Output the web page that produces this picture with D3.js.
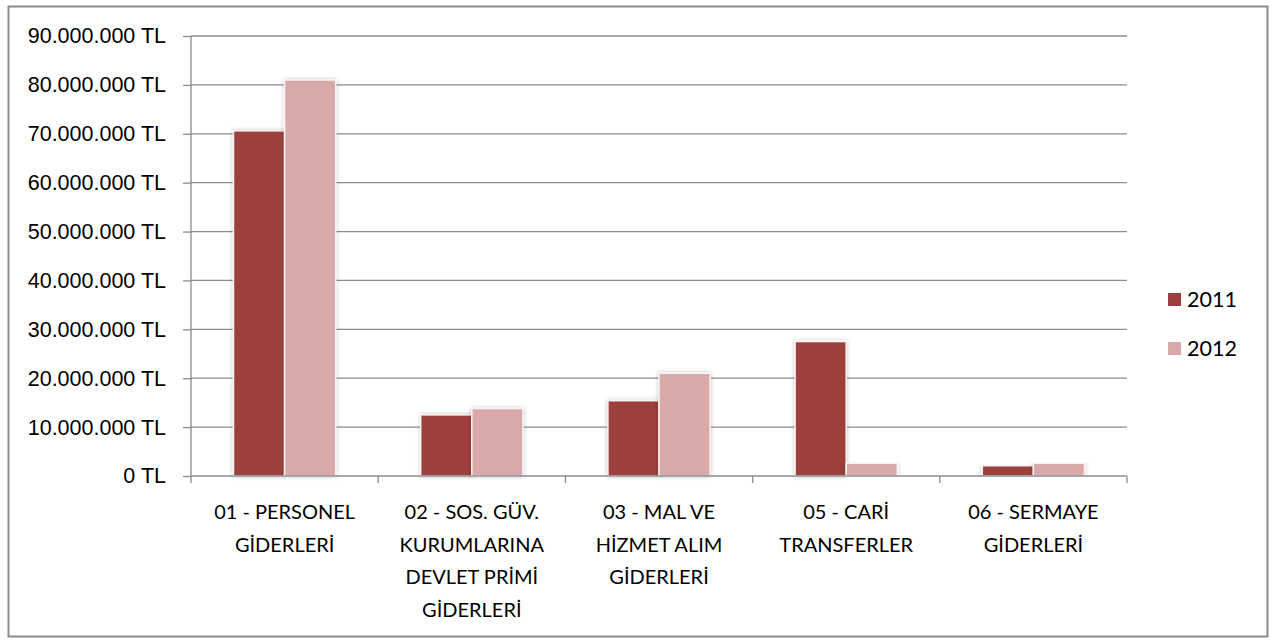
<!DOCTYPE html>
<html>
<head>
<meta charset="utf-8">
<script src="https://cdn.jsdelivr.net/npm/d3@7"></script>
<style>
  body { margin: 0; background: #fff; }
  svg { display: block; font-family: Lato, "Open Sans", sans-serif; }
  .grid line { stroke: #8c8c8c; stroke-width: 1.3; }
  .axis path, .axis line { stroke: #8c8c8c; stroke-width: 1.3; }
  .axis text { fill: #000; font-size: 20px; }
  .yaxis text { font-size: 21.5px; }
  .legend text { font-size: 21.5px; fill: #000; }
</style>
</head>
<body>
<svg id="chart" width="1282" height="641"></svg>
<script>
// chart values
const categories = [
  ["01 - PERSONEL", "GİDERLERİ"],
  ["02 - SOS. GÜV.", "KURUMLARINA", "DEVLET PRİMİ", "GİDERLERİ"],
  ["03 - MAL VE", "HİZMET ALIM", "GİDERLERİ"],
  ["05 - CARİ", "TRANSFERLER"],
  ["06 - SERMAYE", "GİDERLERİ"]
]
const series = ["2011", "2012"]
const values2011 = [70600000, 12500000, 15400000, 27500000, 2100000]
const values2012 = [81000000, 13800000, 21000000, 2600000, 2600000]
const yTicks = [0, 10000000, 20000000, 30000000, 40000000, 50000000, 60000000, 70000000, 80000000, 90000000]
const colors = ["#9b3f3e", "#d9a9aa"]

const svg = d3.select("#chart")
const margin = { top: 36, left: 191, right: 155, bottom: 165 }
const width = 1282
const height = 641
const plotW = width - margin.left - margin.right
const plotH = height - margin.top - margin.bottom

// outer frame
svg.append("rect")
  .attr("x", 8.5).attr("y", 6.5)
  .attr("width", 1259).attr("height", 630)
  .attr("fill", "#fff")
  .attr("stroke", "#8a8a8a")
  .attr("stroke-width", 2)

const defs = svg.append("defs")
const shadow = defs.append("filter").attr("id", "shadow")
  .attr("x", "-20%").attr("y", "-5%").attr("width", "140%").attr("height", "110%")
shadow.append("feGaussianBlur").attr("in", "SourceAlpha").attr("stdDeviation", 2.2).attr("result", "b")
shadow.append("feComponentTransfer").attr("in", "b").attr("result", "s")
  .append("feFuncA").attr("type", "linear").attr("slope", 0.25)
const merge = shadow.append("feMerge")
merge.append("feMergeNode").attr("in", "s")
merge.append("feMergeNode").attr("in", "SourceGraphic")

const g = svg.append("g").attr("transform", `translate(${margin.left},${margin.top})`)

const idx = d3.range(categories.length)
const x0 = d3.scaleBand().domain(idx).range([0, plotW]).paddingInner(0).paddingOuter(0)
const x1 = d3.scaleBand().domain(series)
  .range([x0.bandwidth() * 0.227, x0.bandwidth() * 0.773]).padding(0)
const y = d3.scaleLinear().domain([0, 90000000]).range([plotH, 0])

// horizontal gridlines
g.append("g").attr("class", "grid")
  .selectAll("line")
  .data(yTicks.slice(1))
  .join("line")
  .attr("x1", 0).attr("x2", plotW)
  .attr("y1", d => y(d)).attr("y2", d => y(d))

const fmt = d => d3.format(",")(d).replace(/,/g, ".") + " TL"

g.append("g").attr("class", "axis yaxis")
  .call(d3.axisLeft(y).tickValues(yTicks).tickFormat(fmt).tickSize(8).tickPadding(17).tickSizeOuter(0))
  .call(a => a.select(".domain").attr("d", `M0,${plotH}V0`))

// bars
const data = idx.map(i => ({ i, vals: [values2011[i], values2012[i]] }))
g.append("g").selectAll("g")
  .data(data)
  .join("g")
  .attr("transform", d => `translate(${x0(d.i)},0)`)
  .selectAll("rect")
  .data(d => d.vals.map((v, k) => ({ key: series[k], v, k })))
  .join("rect")
  .attr("x", d => x1(d.key))
  .attr("y", d => y(d.v))
  .attr("width", x1.bandwidth())
  .attr("height", d => plotH - y(d.v))
  .attr("fill", d => colors[d.k])
  .attr("stroke", "#fbf3f3")
  .attr("stroke-width", 1.5)
  .attr("filter", "url(#shadow)")

// x axis with ticks at category boundaries
const xAxis = g.append("g").attr("class", "axis").attr("transform", `translate(0,${plotH})`)
xAxis.append("path").attr("d", `M0,0H${plotW}`)
xAxis.selectAll("line.tick")
  .data(d3.range(categories.length + 1))
  .join("line")
  .attr("x1", d => d * x0.step()).attr("x2", d => d * x0.step())
  .attr("y1", 0).attr("y2", 7)

xAxis.selectAll("text")
  .data(idx)
  .join("text")
  .attr("text-anchor", "middle")
  .attr("transform", d => `translate(${x0(d) + x0.bandwidth() / 2},0)`)
  .each(function (d) {
    d3.select(this).selectAll("tspan")
      .data(categories[d])
      .join("tspan")
      .attr("x", 0)
      .attr("y", (t, k) => 43 + k * 32.5)
      .text(t => t)
  })

// legend
const legend = svg.append("g").attr("class", "legend")
  .attr("transform", "translate(1168,293)")
const item = legend.selectAll("g")
  .data(series)
  .join("g")
  .attr("transform", (d, k) => `translate(0,${k * 49})`)
item.append("rect")
  .attr("width", 13).attr("height", 13)
  .attr("fill", (d, k) => colors[k])
item.append("text")
  .attr("x", 19).attr("y", 14)
  .text(d => d)
</script>
</body>
</html>
